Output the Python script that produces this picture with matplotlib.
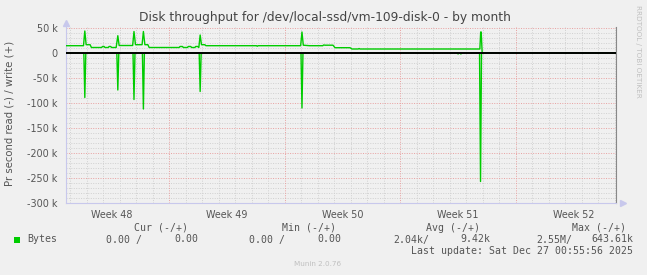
import matplotlib
matplotlib.use("Agg")
import matplotlib.pyplot as plt

W, H = 647, 275
BG = "#f0f0f0"
GREEN = "#00cc00"
TXT = "#555555"

# days since Monday of week 48 ; values in bytes/s
write_t = [0.74, 1.80, 1.88, 1.96, 2.20, 2.28, 2.90, 2.95, 3.05, 3.10, 3.30, 3.35,
           3.45, 3.50, 3.78, 3.88, 3.96, 4.78, 4.86, 4.95, 5.35, 5.43, 5.52, 5.70,
           5.78, 7.60, 7.65, 7.80, 7.85, 8.10, 8.15, 8.30, 8.35, 8.55, 8.60, 8.72,
           8.79, 8.87, 8.95, 9.15, 9.22, 12.28, 12.33, 12.38, 14.96, 15.04, 15.12,
           15.50, 16.30, 16.35, 16.45, 16.92, 17.04, 17.95, 18.07, 18.45, 18.50,
           18.55, 25.82, 25.87, 25.90, 25.96, 34.07]
write_v = [14600, 14600, 44000, 16600, 16600, 11000, 11000, 13000, 13000, 11000, 11000, 13000,
           13000, 11000, 11000, 34600, 15000, 15000, 43000, 16600, 16600, 43000, 16600, 16600,
           11000, 11000, 13000, 13000, 11000, 11000, 13000, 13000, 11000, 11000, 13000, 13000,
           11000, 36000, 16600, 16600, 14600, 14600, 13500, 14600, 14600, 42000, 15600,
           14600, 14600, 16000, 15600, 15600, 10600, 10600, 8000, 8000, 9000,
           8000, 8000, 42000, 42000, 0, 0]

read_t = [0.74, 1.82, 1.88, 1.94, 3.82, 3.88, 3.94, 4.80, 4.86, 4.92, 5.37, 5.43,
          5.49, 8.81, 8.87, 8.93, 14.98, 15.04, 15.10, 24.45, 24.50, 24.55, 24.62,
          24.67, 24.72, 25.80, 25.86, 25.92, 34.07]
read_v = [0, 0, 89000, 0, 0, 74000, 0, 0, 93000, 0, 0, 112000,
          0, 0, 77000, 0, 0, 110000, 0, 0, 2000, 0, 0,
          2000, 0, 0, 257000, 0, 0]

y_ticks = [50000, 0, -50000, -100000, -150000, -200000, -250000, -300000]
y_labels = ["50 k", "0", "-50 k", "-100 k", "-150 k", "-200 k", "-250 k", "-300 k"]
week_starts = [0, 7, 14, 21, 28]
week_labels = ["Week 48", "Week 49", "Week 50", "Week 51", "Week 52"]

legend_head = [("Cur (-/+)", 188), ("Min (-/+)", 336), ("Avg (-/+)", 480), ("Max (-/+)", 626)]
legend_vals = [("0.00 /", 142), ("0.00", 198), ("0.00 /", 285), ("0.00", 341),
               ("2.04k/", 429), ("9.42k", 490), ("2.55M/", 572), ("643.61k", 633)]
last_update = "Last update: Sat Dec 27 00:55:56 2025"


def fx(px):
    return px / W


def fy(py):
    return 1 - py / H


fig = plt.figure(figsize=(W / 100, H / 100), dpi=100, facecolor=BG)
ax = fig.add_axes([fx(66), fy(203), fx(616) - fx(66), fy(27) - fy(203)])
ax.set_facecolor(BG)
xmin, xmax = 0.74, 34.07
ymin, ymax = -300000, 52000
ax.set_xlim(xmin, xmax)
ax.set_ylim(ymin, ymax)

# grid: minor first, then major
for d in range(1, 35):
    if d % 7:
        ax.axvline(d, color="#d0d0d0", lw=0.7, ls=(0, (1, 1.5)), zorder=1)
for v in range(-290000, 52000, 10000):
    if v % 50000:
        ax.axhline(v, color="#d0d0d0", lw=0.7, ls=(0, (1, 1.5)), zorder=1)
for d in week_starts[1:]:
    ax.axvline(d, color="#e8a0a0", lw=0.7, ls=(0, (1, 1.5)), zorder=1.5)
for v in y_ticks:
    ax.axhline(v, color="#e8a0a0", lw=0.7, ls=(0, (1, 1.5)), zorder=1.5)

ax.plot(write_t, write_v, color=GREEN, lw=1.0, zorder=3)
ax.plot(read_t, [-v for v in read_v], color=GREEN, lw=1.0, zorder=3)
ax.axhline(0, color="black", lw=1.4, zorder=4)

ax.set_yticks(y_ticks)
ax.set_yticklabels(y_labels)
ax.set_xticks([s + 3.5 for s in week_starts])
ax.set_xticklabels(week_labels)
ax.tick_params(axis="both", length=0, labelsize=6.9, colors=TXT, pad=5)
ax.tick_params(axis="y", pad=6)

ax.spines["top"].set_visible(False)
ax.spines["left"].set_color("#c8c8ec")
ax.spines["bottom"].set_color("#c8c8ec")
ax.spines["right"].set_color("#888888")
for s in ["left", "bottom", "right"]:
    ax.spines[s].set_linewidth(0.8)

ax.plot([0], [1.02], marker="^", ms=4, color="#c8c8ec", transform=ax.transAxes, clip_on=False)
ax.plot([1.012], [0], marker=">", ms=4, color="#c8c8ec", transform=ax.transAxes, clip_on=False)

fig.text(fx(325), fy(18), "Disk throughput for /dev/local-ssd/vm-109-disk-0 - by month",
         ha="center", va="center", fontsize=8.8, color="#444444")
fig.text(fx(10), fy(113), "Pr second read (-) / write (+)", rotation=90,
         ha="center", va="center", fontsize=7.3, color=TXT)
fig.text(fx(638), fy(5), "RRDTOOL / TOBI OETIKER", rotation=270,
         ha="center", va="top", fontsize=5.2, color="#c0c0c0")

mono = "DejaVu Sans Mono"
for label, right in legend_head:
    fig.text(fx(right), fy(228), label, ha="right", va="center", fontsize=7.15,
             family=mono, color=TXT)
fig.patches.append(plt.Rectangle((fx(14), fy(242.5)), fx(5.5), fy(237) - fy(242.5),
                                 transform=fig.transFigure, facecolor=GREEN,
                                 edgecolor="none"))
fig.text(fx(27), fy(239.5), "Bytes", ha="left", va="center", fontsize=7.15,
         family=mono, color=TXT)
for label, right in legend_vals:
    fig.text(fx(right), fy(239.5), label, ha="right", va="center", fontsize=7.15,
             family=mono, color=TXT)
fig.text(fx(633), fy(251), last_update, ha="right", va="center", fontsize=7.15,
         family=mono, color=TXT)
fig.text(fx(318), fy(264), "Munin 2.0.76", ha="center", va="center", fontsize=5.2,
         color="#c0c0c0")

fig.savefig("out.png", dpi=100, facecolor=BG)
